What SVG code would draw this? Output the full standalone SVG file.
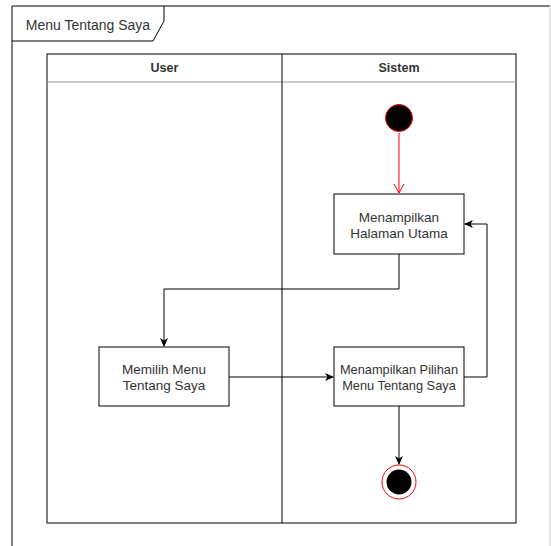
<svg xmlns="http://www.w3.org/2000/svg" width="551" height="546" viewBox="0 0 551 546">
  <style>
    text { font-family: "Liberation Sans", Arial, sans-serif; font-size: 13.5px; fill: #333; }
    .hdr { font-weight: bold; font-size: 12.5px; }
    .title { font-size: 14px; }
    .box { fill: #fff; stroke: #000; stroke-width: 1; }
    .edge { fill: none; stroke: #000; stroke-width: 1; }
  </style>
  <defs>
    <marker id="arrowBlack" markerWidth="10" markerHeight="10" refX="8" refY="5" orient="auto" markerUnits="userSpaceOnUse">
      <path d="M0,1 L9,5 L0,9 L2.5,5 Z" fill="#000"/>
    </marker>
    <marker id="arrowOpenRed" markerWidth="12" markerHeight="12" refX="9" refY="6" orient="auto" markerUnits="userSpaceOnUse">
      <path d="M0,1 L9,6 L0,11" fill="none" stroke="#ff0000" stroke-width="1"/>
    </marker>
  </defs>

  <rect width="551" height="546" fill="#fff"/>

  <!-- frame -->
  <g id="frame">
    <path d="M12,546 V6 H550" fill="none" stroke="#000" stroke-width="1"/>
    <line x1="550" y1="6" x2="550" y2="546" stroke="#ccc" stroke-width="1"/>
    <path d="M12,41 H153 L164,21 V6" fill="none" stroke="#000" stroke-width="1"/>
    <text class="title" x="88" y="30" text-anchor="middle">Menu Tentang Saya</text>
  </g>

  <!-- swimlanes -->
  <g id="lanes">
    <rect x="47" y="54" width="469" height="469" fill="none" stroke="#000" stroke-width="1"/>
    <line x1="47" y1="82" x2="516" y2="82" stroke="#999" stroke-width="1"/>
    <line x1="282" y1="54" x2="282" y2="523" stroke="#000" stroke-width="1"/>
    <text class="hdr" x="164.5" y="72" text-anchor="middle">User</text>
    <text class="hdr" x="399" y="72" text-anchor="middle">Sistem</text>
  </g>

  <!-- connectors -->
  <g id="connectors">
    <line x1="399" y1="133" x2="399" y2="193" stroke="#ff0000" stroke-width="1" marker-end="url(#arrowOpenRed)"/>
    <path class="edge" d="M399,254 V289 H164 V346" marker-end="url(#arrowBlack)"/>
    <path class="edge" d="M229,377 H333" marker-end="url(#arrowBlack)"/>
    <path class="edge" d="M464,377 H487 V224 H465" marker-end="url(#arrowBlack)"/>
    <path class="edge" d="M399,406 V464" marker-end="url(#arrowBlack)"/>
  </g>

  <g id="start">
    <circle cx="399" cy="118" r="13.5" fill="#000" stroke="#ff0000" stroke-width="1"/>
  </g>

  <g id="halaman-utama">
    <rect class="box" x="334" y="194" width="130" height="60"/>
    <text x="399" y="222" text-anchor="middle">Menampilkan</text>
    <text x="399" y="238" text-anchor="middle">Halaman Utama</text>
  </g>

  <g id="memilih-menu">
    <rect class="box" x="99" y="347" width="130" height="59"/>
    <text x="164" y="374" text-anchor="middle">Memilih Menu</text>
    <text x="164" y="390" text-anchor="middle">Tentang Saya</text>
  </g>

  <g id="pilihan-menu">
    <rect class="box" x="334" y="347" width="130" height="59"/>
    <text x="399" y="374" text-anchor="middle" style="font-size:12.8px">Menampilkan Pilihan</text>
    <text x="399" y="390" text-anchor="middle" style="font-size:12.8px">Menu Tentang Saya</text>
  </g>

  <g id="end">
    <circle cx="399" cy="482" r="17" fill="#fff" stroke="#ff0000" stroke-width="1"/>
    <circle cx="399" cy="482" r="12.5" fill="#000"/>
  </g>
</svg>
